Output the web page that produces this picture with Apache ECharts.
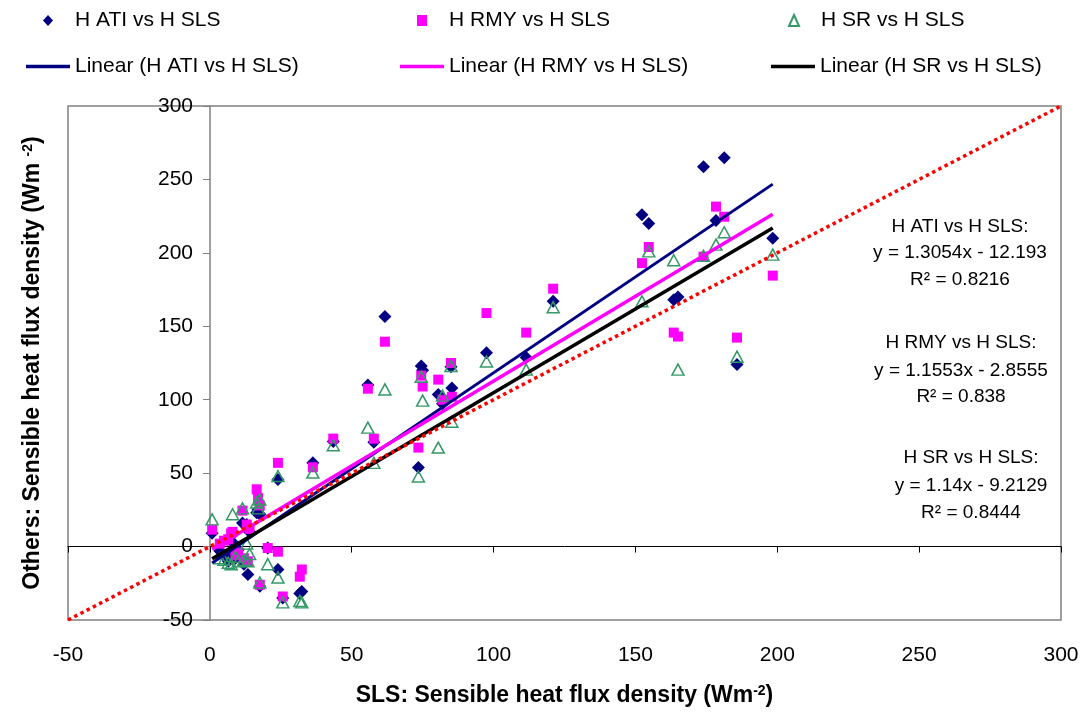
<!DOCTYPE html>
<html>
<head>
<meta charset="utf-8">
<script src="https://cdn.jsdelivr.net/npm/echarts@6/dist/echarts.min.js"></script>
<style>
  html, body { margin: 0; padding: 0; background: #fff; }
  #chart { width: 1083px; height: 713px; }
</style>
</head>
<body>
<div id="chart"></div>
<script>
// SLS sensible heat flux (x) and the three other methods (y), Wm-2
var sls  = [0.8, 3.5, 5, 6.5, 7.5, 8, 9, 10, 11.5, 12, 13, 13.4, 14, 16.5, 17, 17.6, 17.6, 20.4, 24, 24,
            25.7, 31.7, 32.4, 36.3, 43.5, 55.7, 57.8, 61.7, 73.5, 74.5, 75, 80.5, 82, 85, 85.3, 97.5, 111.5, 121,
            152.3, 154.7, 163.5, 165, 174, 178.4, 181.3, 185.8, 198.4];
var hAti = [9, -3, -6, -10, -5, 3, -8, -2, 16, -12, 15, -19, 10, 23, 25, 22, -27, -1, -15.6, 45.6,
            -35, -32, -30.6, 57, 71.5, 110, 71, 156.6, 53.8, 123, 120, 103.5, 97.3, 122.5, 108, 132, 128.7, 167,
            226, 220, 168, 170, 258.7, 222, 264.8, 124, 210];
var hRmy = [11.5, 2, 4, 5, 9, 10, -6, -4, 24.5, -8, 15, -10, 12, 39, 33, 28, -26, -1, -3.5, 57,
            -34, -20.5, -15.6, 54, 73.5, 107.5, 73.5, 139.5, 67.4, 116.4, 109, 113.7, 100, 125, 102, 159, 145.7, 175.6,
            193, 204, 145.7, 143, 197.4, 231.5, 224.6, 142.3, 184.5];
var hSr  = [18.5, -8, -9, -11, -12, 22, -7, -10, 26, -9, 2, -10, -5, 30, 26, 32, -24.5, -12, -21, 48,
            -38, -37, -38, 50.4, 69, 81, 57, 107, 47.7, 115.7, 99.4, 67.4, 102.8, 123, 85, 126, 120.5, 163,
            167, 201, 195, 120.5, 198, 205.6, 214, 129.3, 198.8];

// trend line end points and the 1:1 line
var trendAti = [[0.8, -11.2], [198.4, 246.8]];
var trendRmy = [[0.8, -1.9], [198.4, 226.3]];
var trendSr  = [[0.8, -8.3], [198.4, 217.0]];
var oneToOne = [[-50, -50], [300, 300]];

var seriesNames = ['H ATI vs H SLS', 'H RMY vs H SLS', 'H SR vs H SLS'];
var trendNames  = ['Linear (H ATI vs H SLS)', 'Linear (H RMY vs H SLS)', 'Linear (H SR vs H SLS)'];
var trendColors = ['#000080', '#FF00FF', '#000000'];
var eqLines = [
    ['H ATI vs H SLS:', 'y = 1.3054x - 12.193', 'R\u00b2 = 0.8216'],
    ['H RMY vs H SLS:', 'y = 1.1553x - 2.8555', 'R\u00b2 = 0.838'],
    ['H SR vs H SLS:', 'y = 1.14x - 9.2129', 'R\u00b2 = 0.8444']
];

var FONT = '"Liberation Sans", Arial, sans-serif';

function pairs(xs, ys) {
    var out = [];
    for (var i = 0; i < xs.length; i++) out.push([xs[i], ys[i]]);
    return out;
}

var chart = echarts.init(document.getElementById('chart'));

//legend: one per item so they line up in two rows
var legendLeft = [21, 395, 766];
var legends = [];
for (var i = 0; i < 3; i++) {
    legends.push({
        data: [seriesNames[i]], left: legendLeft[i] + 17, top: 5,
        itemWidth: 10, itemHeight: 11, itemGap: 0,
        textStyle: {fontFamily: FONT, fontSize: 21, color: '#000', padding: [0, 0, 0, 17]}
    });
    legends.push({
        data: [{name: trendNames[i], icon: 'rect', itemStyle: {color: trendColors[i]}}],
        left: legendLeft[i], top: 51,
        itemWidth: 44, itemHeight: 3.5, itemGap: 0,
        textStyle: {fontFamily: FONT, fontSize: 21, color: '#000'}
    });
}

//equation texts on the right
var graphics = [];
var eqX = [960, 961, 971], eqY = [[227, 253, 280], [343, 371, 397], [458, 486, 513]];
for (var b = 0; b < 3; b++) {
    for (var k = 0; k < 3; k++) {
        graphics.push({
            type: 'text', x: eqX[b], y: eqY[b][k], silent: true,
            style: {text: eqLines[b][k], align: 'center', verticalAlign: 'middle',
                    font: '19px ' + FONT, fill: '#000'}
        });
    }
}

var titleStyle = {fontFamily: FONT, fontSize: 23, fontWeight: 'bold', color: '#000',
    rich: {sup: {fontFamily: FONT, fontSize: 14, fontWeight: 'bold', verticalAlign: 'top', color: '#000'}}};

var option = {
    backgroundColor: '#fff',
    animation: false,
    legend: legends,
    graphic: graphics,
    grid: {left: 68, right: 22, top: 106, bottom: 93, show: true, outerBoundsMode: 'none',
           borderColor: '#808080', borderWidth: 1.5, backgroundColor: '#fff'},
    xAxis: [
        {   // zero line with ticks
            type: 'value', min: -50, max: 300, interval: 50,
            axisLine: {onZero: true, lineStyle: {color: '#000', width: 1}},
            axisTick: {show: true, length: 6, lineStyle: {color: '#000'}},
            axisLabel: {show: false},
            splitLine: {show: false}
        },
        {   // labels at the bottom
            type: 'value', min: -50, max: 300, interval: 50, position: 'bottom',
            axisLine: {show: false, onZero: false},
            axisTick: {show: false},
            axisLabel: {margin: 25, fontFamily: FONT, fontSize: 21, color: '#000'},
            splitLine: {show: false},
            name: 'SLS: Sensible heat flux density (Wm{sup|-2})',
            nameLocation: 'middle', nameGap: 64,
            nameTextStyle: titleStyle
        }
    ],
    yAxis: {
        type: 'value', min: -50, max: 300, interval: 50,
        offset: -142,   // sits on x = 0
        axisLine: {onZero: false, lineStyle: {color: '#808080', width: 1.5}},
        axisTick: {show: true, length: 7, lineStyle: {color: '#808080'}},
        axisLabel: {margin: 17, fontFamily: FONT, fontSize: 21, color: '#000'},
        splitLine: {show: false},
        name: 'Others: Sensible heat flux density (Wm {sup|-2})',
        nameLocation: 'middle', nameGap: 166,
        nameTextStyle: titleStyle
    },
    series: [
        {
            name: seriesNames[0], type: 'scatter', xAxisIndex: 0, data: pairs(sls, hAti),
            symbol: 'diamond', symbolSize: 13, itemStyle: {color: '#000080', opacity: 1}
        },
        {
            name: seriesNames[1], type: 'scatter', xAxisIndex: 0, data: pairs(sls, hRmy),
            symbol: 'rect', symbolSize: 10, itemStyle: {color: '#FF00FF', opacity: 1}
        },
        {
            name: seriesNames[2], type: 'scatter', xAxisIndex: 0, data: pairs(sls, hSr),
            symbol: 'triangle', symbolSize: [12, 11],
            itemStyle: {color: 'rgba(0,0,0,0)', borderColor: '#339966', borderWidth: 1.5, opacity: 1}
        },
        {
            name: trendNames[0], type: 'line', xAxisIndex: 0, data: trendAti, symbol: 'none',
            lineStyle: {color: trendColors[0], width: 3}, itemStyle: {color: trendColors[0]}
        },
        {
            name: trendNames[1], type: 'line', xAxisIndex: 0, data: trendRmy, symbol: 'none',
            lineStyle: {color: trendColors[1], width: 3.5}, itemStyle: {color: trendColors[1]}
        },
        {
            name: trendNames[2], type: 'line', xAxisIndex: 0, data: trendSr, symbol: 'none',
            lineStyle: {color: trendColors[2], width: 3.5}, itemStyle: {color: trendColors[2]}
        },
        {
            name: '1:1', type: 'line', xAxisIndex: 0, data: oneToOne, symbol: 'none',
            lineStyle: {color: '#FF0000', width: 3.5, type: [3.5, 3.5]}, z: 3
        }
    ]
};

chart.setOption(option);
</script>
</body>
</html>
